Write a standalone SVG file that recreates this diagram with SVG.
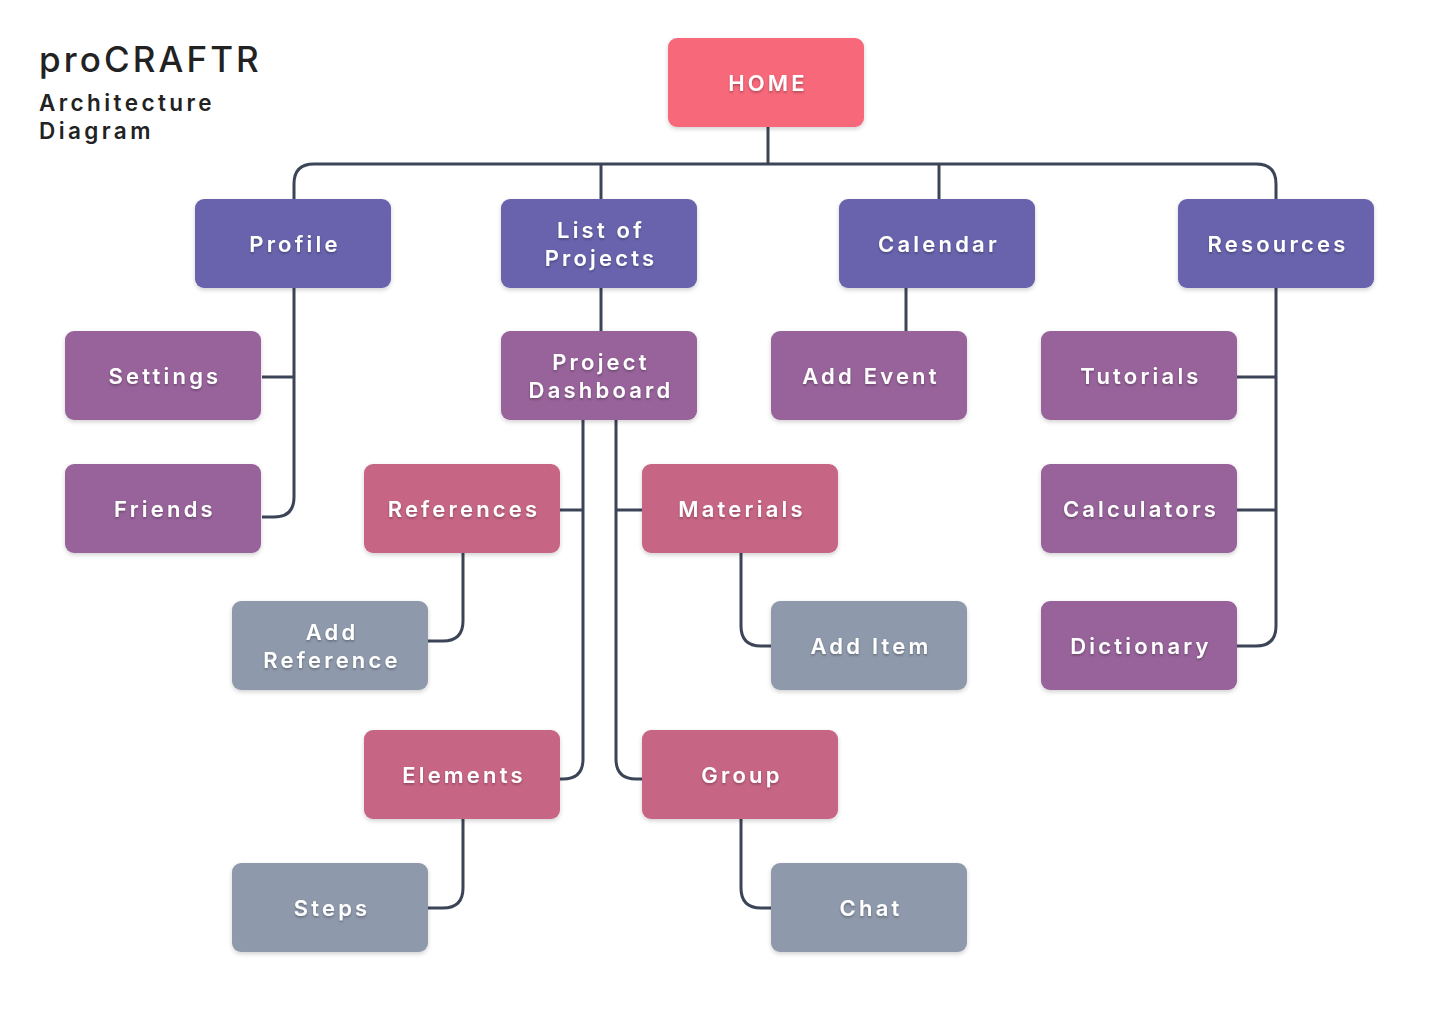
<svg xmlns="http://www.w3.org/2000/svg" width="1440" height="1024" viewBox="0 0 1440 1024">
<defs>
<filter id="sh" x="-10%" y="-10%" width="120%" height="130%">
<feDropShadow dx="0" dy="2" stdDeviation="2" flood-color="#000" flood-opacity="0.18"/>
</filter>
<filter id="ts" x="-10%" y="-30%" width="120%" height="160%">
<feDropShadow dx="0" dy="1.5" stdDeviation="1.2" flood-color="#000" flood-opacity="0.3"/>
</filter>
</defs>
<style>
.n rect{filter:url(#sh)}
.n text{font-family:Inter,"Noto Sans",sans-serif;font-size:22px;font-weight:600;fill:#fff;letter-spacing:3.2px;text-anchor:middle;filter:url(#ts)}
.home rect{fill:#F6687A}
.l1 rect{fill:#6764AC}
.l2 rect{fill:#97639A}
.l3 rect{fill:#C76585}
.l4 rect{fill:#8E99AB}
#connectors path{fill:none;stroke:#3C4557;stroke-width:3}
.t{font-family:Inter,"Noto Sans",sans-serif;fill:#222}
</style>
<rect width="1440" height="1024" fill="#fff"/>
<g id="title">
<text class="t" x="39" y="72" font-size="35" font-weight="500" letter-spacing="3.1" fill="#2d2d2d">proCRAFTR</text>
<text class="t" x="39" y="111" font-size="22.5" font-weight="600" letter-spacing="3.4">Architecture</text>
<text class="t" x="39" y="139" font-size="22.5" font-weight="600" letter-spacing="3.4">Diagram</text>
</g>
<g id="connectors">
<path d="M768 127 V164"/>
<path d="M1276 199 V184 Q1276 164 1256 164 H314 Q294 164 294 184 V199"/>
<path d="M601 164 V199"/>
<path d="M939 164 V199"/>
<path d="M294 288 V497 Q294 517 274 517 H262"/>
<path d="M262 377 H294"/>
<path d="M601 288 V331"/>
<path d="M906 288 V331"/>
<path d="M583 420 V759 Q583 779 563 779 H560"/>
<path d="M616 420 V759 Q616 779 636 779 H642"/>
<path d="M560 510 H583"/>
<path d="M616 510 H642"/>
<path d="M463 553 V621 Q463 641 443 641 H428"/>
<path d="M741 553 V626 Q741 646 761 646 H771"/>
<path d="M463 819 V888 Q463 908 443 908 H428"/>
<path d="M741 819 V888 Q741 908 761 908 H771"/>
<path d="M1276 288 V626 Q1276 646 1256 646 H1237"/>
<path d="M1237 377 H1276"/>
<path d="M1237 510 H1276"/>
</g>
<g id="home" class="n home"><rect x="668" y="38" width="196" height="89" rx="9"/><text x="768" y="91">HOME</text></g>
<g id="profile" class="n l1"><rect x="195" y="199" width="196" height="89" rx="9"/><text x="295" y="252">Profile</text></g>
<g id="listprojects" class="n l1"><rect x="501" y="199" width="196" height="89" rx="9"/><text x="601" y="238">List of</text><text x="601" y="266">Projects</text></g>
<g id="calendar" class="n l1"><rect x="839" y="199" width="196" height="89" rx="9"/><text x="939" y="252">Calendar</text></g>
<g id="resources" class="n l1"><rect x="1178" y="199" width="196" height="89" rx="9"/><text x="1278" y="252">Resources</text></g>
<g id="settings" class="n l2"><rect x="65" y="331" width="196" height="89" rx="9"/><text x="165" y="384">Settings</text></g>
<g id="friends" class="n l2"><rect x="65" y="464" width="196" height="89" rx="9"/><text x="165" y="517">Friends</text></g>
<g id="dashboard" class="n l2"><rect x="501" y="331" width="196" height="89" rx="9"/><text x="601" y="370">Project</text><text x="601" y="398">Dashboard</text></g>
<g id="addevent" class="n l2"><rect x="771" y="331" width="196" height="89" rx="9"/><text x="871" y="384">Add Event</text></g>
<g id="tutorials" class="n l2"><rect x="1041" y="331" width="196" height="89" rx="9"/><text x="1141" y="384">Tutorials</text></g>
<g id="calculators" class="n l2"><rect x="1041" y="464" width="196" height="89" rx="9"/><text x="1141" y="517">Calculators</text></g>
<g id="dictionary" class="n l2"><rect x="1041" y="601" width="196" height="89" rx="9"/><text x="1141" y="654">Dictionary</text></g>
<g id="references" class="n l3"><rect x="364" y="464" width="196" height="89" rx="9"/><text x="464" y="517">References</text></g>
<g id="materials" class="n l3"><rect x="642" y="464" width="196" height="89" rx="9"/><text x="742" y="517">Materials</text></g>
<g id="elements" class="n l3"><rect x="364" y="730" width="196" height="89" rx="9"/><text x="464" y="783">Elements</text></g>
<g id="group" class="n l3"><rect x="642" y="730" width="196" height="89" rx="9"/><text x="742" y="783">Group</text></g>
<g id="addreference" class="n l4"><rect x="232" y="601" width="196" height="89" rx="9"/><text x="332" y="640">Add</text><text x="332" y="668">Reference</text></g>
<g id="additem" class="n l4"><rect x="771" y="601" width="196" height="89" rx="9"/><text x="871" y="654">Add Item</text></g>
<g id="steps" class="n l4"><rect x="232" y="863" width="196" height="89" rx="9"/><text x="332" y="916">Steps</text></g>
<g id="chat" class="n l4"><rect x="771" y="863" width="196" height="89" rx="9"/><text x="871" y="916">Chat</text></g>
</svg>
